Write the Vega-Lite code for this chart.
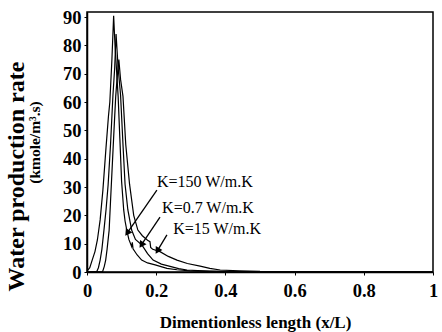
{
  "$schema": "https://vega.github.io/schema/vega-lite/v6.json",
  "autosize": {"type": "none"},
  "width": 346,
  "height": 260,
  "padding": {"left": 87, "top": 12, "right": 9, "bottom": 60},
  "background": "white",
  "title": {
    "text": "Water production rate",
    "orient": "left",
    "anchor": "middle",
    "font": "Liberation Serif",
    "fontSize": 24,
    "fontWeight": "bold",
    "color": "black",
    "offset": -2,
    "dx": -34.5
  },
  "config": {
    "font": "Liberation Serif",
    "view": {"stroke": "black", "strokeWidth": 1.5},
    "axis": {
      "grid": false,
      "domainColor": "black",
      "domainWidth": 1.5,
      "tickColor": "black",
      "tickSize": 3,
      "labelColor": "black",
      "titleColor": "black",
      "labelFont": "Liberation Serif",
      "labelFontWeight": "bold",
      "labelFontSize": 18.5,
      "labelOverlap": false,
      "labelFlush": false,
      "titleFont": "Liberation Serif",
      "titleFontWeight": "bold",
      "format": "~f"
    },
    "axisX": {"tickCount": 5, "labelPadding": 6, "titleFontSize": 17},
    "axisY": {"tickCount": 10, "labelPadding": 3, "titleFontSize": 15.5}
  },
  "datasets": {
    "curves": [
      {"x": 0, "v": 0.3, "k": "K=150 W/m.K"},
      {"x": 0.008, "v": 1.5, "k": "K=150 W/m.K"},
      {"x": 0.015, "v": 4.2, "k": "K=150 W/m.K"},
      {"x": 0.023, "v": 7.2, "k": "K=150 W/m.K"},
      {"x": 0.030, "v": 11.3, "k": "K=150 W/m.K"},
      {"x": 0.038, "v": 18.4, "k": "K=150 W/m.K"},
      {"x": 0.046, "v": 29, "k": "K=150 W/m.K"},
      {"x": 0.055, "v": 44, "k": "K=150 W/m.K"},
      {"x": 0.062, "v": 55, "k": "K=150 W/m.K"},
      {"x": 0.066, "v": 60, "k": "K=150 W/m.K"},
      {"x": 0.072, "v": 75, "k": "K=150 W/m.K"},
      {"x": 0.077, "v": 90.5, "k": "K=150 W/m.K"},
      {"x": 0.081, "v": 80, "k": "K=150 W/m.K"},
      {"x": 0.085, "v": 72, "k": "K=150 W/m.K"},
      {"x": 0.090, "v": 62, "k": "K=150 W/m.K"},
      {"x": 0.095, "v": 47, "k": "K=150 W/m.K"},
      {"x": 0.100, "v": 32, "k": "K=150 W/m.K"},
      {"x": 0.106, "v": 22, "k": "K=150 W/m.K"},
      {"x": 0.110, "v": 18, "k": "K=150 W/m.K"},
      {"x": 0.115, "v": 14.8, "k": "K=150 W/m.K"},
      {"x": 0.121, "v": 11.5, "k": "K=150 W/m.K"},
      {"x": 0.129, "v": 9, "k": "K=150 W/m.K"},
      {"x": 0.131, "v": 10.5, "k": "K=150 W/m.K"},
      {"x": 0.133, "v": 8.2, "k": "K=150 W/m.K"},
      {"x": 0.145, "v": 6, "k": "K=150 W/m.K"},
      {"x": 0.158, "v": 4.2, "k": "K=150 W/m.K"},
      {"x": 0.175, "v": 3.2, "k": "K=150 W/m.K"},
      {"x": 0.197, "v": 2.5, "k": "K=150 W/m.K"},
      {"x": 0.231, "v": 1.3, "k": "K=150 W/m.K"},
      {"x": 0.260, "v": 0.8, "k": "K=150 W/m.K"},
      {"x": 0.298, "v": 0.4, "k": "K=150 W/m.K"},
      {"x": 0.350, "v": 0.2, "k": "K=150 W/m.K"},
      {"x": 0.400, "v": 0.1, "k": "K=150 W/m.K"},
      {"x": 0.500, "v": 0, "k": "K=150 W/m.K"},
      {"x": 1, "v": 0, "k": "K=150 W/m.K"},

      {"x": 0, "v": 0, "k": "K=0.7 W/m.K"},
      {"x": 0.028, "v": 0.1, "k": "K=0.7 W/m.K"},
      {"x": 0.033, "v": 1.5, "k": "K=0.7 W/m.K"},
      {"x": 0.038, "v": 4.2, "k": "K=0.7 W/m.K"},
      {"x": 0.043, "v": 8, "k": "K=0.7 W/m.K"},
      {"x": 0.049, "v": 14.8, "k": "K=0.7 W/m.K"},
      {"x": 0.055, "v": 22, "k": "K=0.7 W/m.K"},
      {"x": 0.061, "v": 30.7, "k": "K=0.7 W/m.K"},
      {"x": 0.068, "v": 45, "k": "K=0.7 W/m.K"},
      {"x": 0.075, "v": 62.5, "k": "K=0.7 W/m.K"},
      {"x": 0.080, "v": 72, "k": "K=0.7 W/m.K"},
      {"x": 0.084, "v": 84, "k": "K=0.7 W/m.K"},
      {"x": 0.090, "v": 72, "k": "K=0.7 W/m.K"},
      {"x": 0.097, "v": 62.5, "k": "K=0.7 W/m.K"},
      {"x": 0.104, "v": 45, "k": "K=0.7 W/m.K"},
      {"x": 0.110, "v": 31, "k": "K=0.7 W/m.K"},
      {"x": 0.118, "v": 22, "k": "K=0.7 W/m.K"},
      {"x": 0.129, "v": 14.8, "k": "K=0.7 W/m.K"},
      {"x": 0.140, "v": 11.5, "k": "K=0.7 W/m.K"},
      {"x": 0.159, "v": 9.5, "k": "K=0.7 W/m.K"},
      {"x": 0.175, "v": 6.5, "k": "K=0.7 W/m.K"},
      {"x": 0.191, "v": 4.2, "k": "K=0.7 W/m.K"},
      {"x": 0.215, "v": 2.8, "k": "K=0.7 W/m.K"},
      {"x": 0.240, "v": 2.0, "k": "K=0.7 W/m.K"},
      {"x": 0.265, "v": 1.2, "k": "K=0.7 W/m.K"},
      {"x": 0.289, "v": 0.7, "k": "K=0.7 W/m.K"},
      {"x": 0.320, "v": 0.5, "k": "K=0.7 W/m.K"},
      {"x": 0.355, "v": 0.35, "k": "K=0.7 W/m.K"},
      {"x": 0.400, "v": 0.2, "k": "K=0.7 W/m.K"},
      {"x": 0.450, "v": 0.1, "k": "K=0.7 W/m.K"},
      {"x": 0.500, "v": 0.05, "k": "K=0.7 W/m.K"},
      {"x": 1, "v": 0, "k": "K=0.7 W/m.K"},

      {"x": 0, "v": 0, "k": "K=15 W/m.K"},
      {"x": 0.045, "v": 0.1, "k": "K=15 W/m.K"},
      {"x": 0.050, "v": 2, "k": "K=15 W/m.K"},
      {"x": 0.054, "v": 4.2, "k": "K=15 W/m.K"},
      {"x": 0.058, "v": 8, "k": "K=15 W/m.K"},
      {"x": 0.064, "v": 14.8, "k": "K=15 W/m.K"},
      {"x": 0.068, "v": 25, "k": "K=15 W/m.K"},
      {"x": 0.072, "v": 35, "k": "K=15 W/m.K"},
      {"x": 0.078, "v": 50, "k": "K=15 W/m.K"},
      {"x": 0.083, "v": 62, "k": "K=15 W/m.K"},
      {"x": 0.088, "v": 70, "k": "K=15 W/m.K"},
      {"x": 0.092, "v": 75, "k": "K=15 W/m.K"},
      {"x": 0.097, "v": 68, "k": "K=15 W/m.K"},
      {"x": 0.104, "v": 62, "k": "K=15 W/m.K"},
      {"x": 0.112, "v": 45, "k": "K=15 W/m.K"},
      {"x": 0.123, "v": 31, "k": "K=15 W/m.K"},
      {"x": 0.135, "v": 20, "k": "K=15 W/m.K"},
      {"x": 0.147, "v": 14.8, "k": "K=15 W/m.K"},
      {"x": 0.160, "v": 12.8, "k": "K=15 W/m.K"},
      {"x": 0.175, "v": 11.2, "k": "K=15 W/m.K"},
      {"x": 0.182, "v": 10.7, "k": "K=15 W/m.K"},
      {"x": 0.184, "v": 8.7, "k": "K=15 W/m.K"},
      {"x": 0.190, "v": 8.0, "k": "K=15 W/m.K"},
      {"x": 0.211, "v": 7.2, "k": "K=15 W/m.K"},
      {"x": 0.235, "v": 5.5, "k": "K=15 W/m.K"},
      {"x": 0.260, "v": 4.2, "k": "K=15 W/m.K"},
      {"x": 0.290, "v": 3.0, "k": "K=15 W/m.K"},
      {"x": 0.327, "v": 2.1, "k": "K=15 W/m.K"},
      {"x": 0.355, "v": 1.3, "k": "K=15 W/m.K"},
      {"x": 0.385, "v": 0.7, "k": "K=15 W/m.K"},
      {"x": 0.440, "v": 0.4, "k": "K=15 W/m.K"},
      {"x": 0.500, "v": 0.2, "k": "K=15 W/m.K"},
      {"x": 1, "v": 0, "k": "K=15 W/m.K"}
    ],
    "notes": [
      {"label": "K=150 W/m.K", "tx": 0.202, "ty": 31.8, "x1": 0.202, "y1": 28.9, "x2": 0.118, "y2": 14.1},
      {"label": "K=0.7 W/m.K", "tx": 0.217, "ty": 22.6, "x1": 0.211, "y1": 19.4, "x2": 0.159, "y2": 9.9},
      {"label": "K=15 W/m.K", "tx": 0.249, "ty": 15.2, "x1": 0.231, "y1": 13.1, "x2": 0.205, "y2": 7.8}
    ]
  },
  "layer": [
    {
      "data": {"name": "curves"},
      "mark": {"type": "line", "color": "black", "strokeWidth": 1.2, "clip": true},
      "encoding": {
        "x": {
          "field": "x", "type": "quantitative",
          "scale": {"domain": [0, 1], "nice": false},
          "axis": {
            "title": "Dimentionless length (x/L)",
            "titleBaseline": "alphabetic",
            "titleY": 55,
            "titleX": 168
          }
        },
        "y": {
          "field": "v", "type": "quantitative",
          "scale": {"domain": [0, 91.8], "nice": false},
          "axis": {
            "title": "(kmole/m³.s)",
            "titleBaseline": "alphabetic",
            "titleX": -48
          }
        },
        "detail": {"field": "k"}
      }
    },
    {
      "data": {"name": "notes"},
      "mark": {"type": "rule", "color": "black", "strokeWidth": 1.3},
      "encoding": {
        "x": {"field": "x1", "type": "quantitative"},
        "y": {"field": "y1", "type": "quantitative"},
        "x2": {"field": "x2"},
        "y2": {"field": "y2"}
      }
    },
    {
      "data": {"name": "notes"},
      "transform": [
        {"calculate": "atan2((datum.x2 - datum.x1) * 346, (datum.y2 - datum.y1) * 2.833) * 180 / PI", "as": "ang"}
      ],
      "mark": {"type": "point", "shape": "triangle", "filled": true, "color": "black", "size": 60, "opacity": 1},
      "encoding": {
        "x": {"field": "x2", "type": "quantitative"},
        "y": {"field": "y2", "type": "quantitative"},
        "angle": {"field": "ang", "type": "quantitative", "scale": null}
      }
    },
    {
      "data": {"name": "notes"},
      "mark": {"type": "text", "align": "left", "baseline": "middle", "fontSize": 16, "font": "Liberation Serif", "color": "black"},
      "encoding": {
        "x": {"field": "tx", "type": "quantitative"},
        "y": {"field": "ty", "type": "quantitative"},
        "text": {"field": "label"}
      }
    }
  ]
}
